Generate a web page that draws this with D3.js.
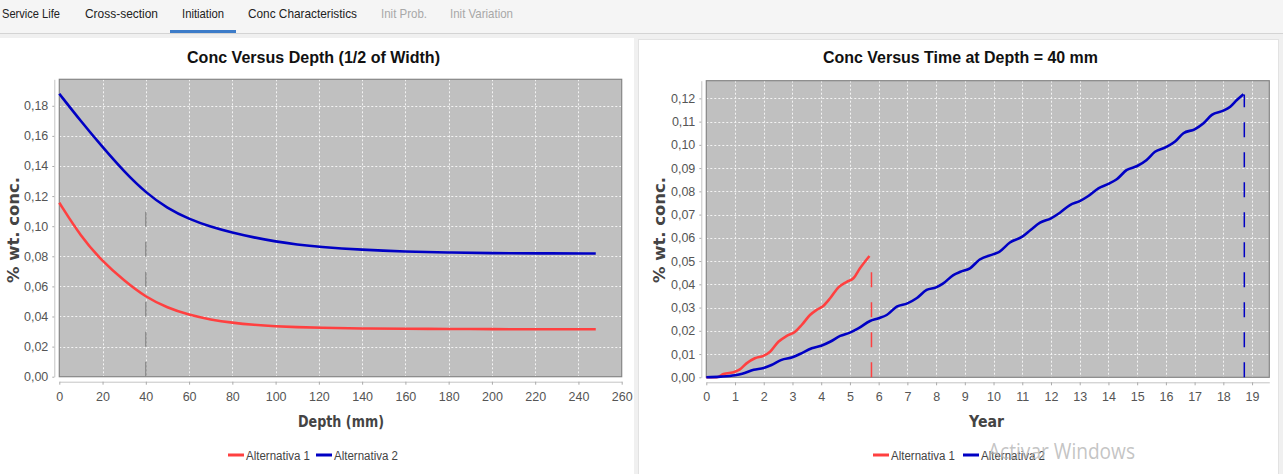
<!DOCTYPE html>
<html><head><meta charset="utf-8">
<script src="https://cdn.jsdelivr.net/npm/d3@7"></script>
<style>
body{margin:0;background:#fff;}
svg{display:block;font-family:"Liberation Sans",Arial,sans-serif;}
</style>
</head><body>
<svg id="c" width="1283" height="474"></svg>
<script>
// ---------- data ----------
const tabLabels = ["Service Life","Cross-section","Initiation","Conc Characteristics","Init Prob.","Init Variation"];
const seriesNames = ["Alternativa 1","Alternativa 2"];

// Conc versus depth
const depthMm   = [0,10,20,30,40,50,60,70,80,90,100,110,120,140,160,180,200,220,248];
const depthAlt1 = [0.1156,0.0930,0.0765,0.0638,0.0528,0.0458,0.0410,0.0379,0.0358,0.0344,0.0335,0.0329,0.0325,0.0320,0.0318,0.0317,0.0316,0.0315,0.0315];
const depthAlt2 = [0.188,0.1697,0.1525,0.1362,0.1222,0.1118,0.1047,0.0996,0.0957,0.0925,0.0898,0.0878,0.0863,0.0843,0.0831,0.0825,0.0821,0.0819,0.0819];
const depthMarker = {x: 40, top: 0.110};
const depthXTicks = [0,20,40,60,80,100,120,140,160,180,200,220,240,260];
const depthYTicks = [0,0.02,0.04,0.06,0.08,0.10,0.12,0.14,0.16,0.18];

// Conc versus time
const timeAlt1Year = [0,0.36,0.6,1.0,1.17,1.4,1.69,2.0,2.22,2.51,2.8,3.09,3.32,3.61,3.84,4.07,4.31,4.6,4.89,5.12,5.35,5.68];
const timeAlt1Conc = [0,0,0.0014,0.0024,0.0034,0.006,0.0082,0.0093,0.011,0.0153,0.0178,0.0196,0.0225,0.0268,0.029,0.0307,0.034,0.0387,0.0411,0.0426,0.0469,0.0522];
const timeAlt2Year = [0,0.5,1.0,1.25,1.65,2.0,2.27,2.62,3.0,3.26,3.67,4.0,4.31,4.66,5.0,5.29,5.7,6.0,6.28,6.63,7.0,7.32,7.67,8.0,8.25,8.6,8.85,9.18,9.52,10.0,10.2,10.57,11.0,11.3,11.62,12.0,12.31,12.66,13.0,13.3,13.65,14.0,14.29,14.64,15.0,15.33,15.62,16.0,16.32,16.61,17.0,17.31,17.6,18.0,18.24,18.47,18.7];
const timeAlt2Conc = [0,0.0003,0.0009,0.0015,0.0032,0.004,0.0053,0.0075,0.0086,0.010,0.0125,0.0136,0.0153,0.0178,0.0192,0.021,0.0242,0.0254,0.0268,0.0304,0.0318,0.034,0.0376,0.0387,0.0404,0.044,0.0454,0.0469,0.0507,0.053,0.054,0.058,0.0605,0.0635,0.0665,0.0684,0.0708,0.0741,0.0758,0.078,0.0813,0.0832,0.0852,0.0892,0.0909,0.0935,0.097,0.099,0.1014,0.105,0.1067,0.1093,0.1129,0.1147,0.1164,0.1193,0.1218];
const timeMarkers = [{x: 5.75, top: 0.0454, s: 0}, {x: 18.73, top: 0.1217, s: 1}];
const timeXTicks = d3.range(0, 20, 1);
const timeYTicks = [0,0.01,0.02,0.03,0.04,0.05,0.06,0.07,0.08,0.09,0.10,0.11,0.12];

// ---------- style ----------
const colors = ["#ff4040","#0000c4"];
const svg = d3.select("#c");
const loc = d3.formatLocale({decimal: ",", thousands: ".", grouping: [3], currency: ["", ""]});
const fmt2 = loc.format(".2f");

// page chrome
svg.append("rect").attr("x",0).attr("y",0).attr("width",1283).attr("height",474).attr("fill","#f0f0f0");
svg.append("rect").attr("x",0).attr("y",0).attr("width",1283).attr("height",33).attr("fill","#f5f5f5");
svg.append("line").attr("x1",0).attr("x2",1283).attr("y1",33.5).attr("y2",33.5).attr("stroke","#d4d4d4");
svg.append("rect").attr("x",0).attr("y",38).attr("width",634).attr("height",436).attr("fill","#fff");
svg.append("rect").attr("x",638.5).attr("y",39.5).attr("width",640).attr("height",440).attr("fill","#fff").attr("stroke","#e2e2e2");

const tabPos = [[2,58],[85,73],[182,42],[248,109],[381,46],[450,63]];
tabLabels.forEach((t,i)=>{
  svg.append("text").attr("x",tabPos[i][0]).attr("y",18).attr("font-size",13)
    .attr("textLength",tabPos[i][1]).attr("lengthAdjust","spacingAndGlyphs")
    .attr("fill", i>=4 ? "#a8a8a8" : "#222").text(t);
});
svg.append("rect").attr("x",170).attr("y",30).attr("width",66).attr("height",3).attr("fill","#3d7cc9");

function chart(o){
  const g = svg.append("g");
  const x = d3.scaleLinear().domain(o.xDomain).range([o.left,o.right]);
  const y = d3.scaleLinear().domain(o.yDomain).range([o.bottom,o.top]);
  g.append("rect").attr("x",o.left).attr("y",o.top).attr("width",o.right-o.left).attr("height",o.bottom-o.top).attr("fill","#c0c0c0");
  g.selectAll(".gx").data(o.xTicks.filter(d=>d>o.xDomain[0] && d<o.xDomain[1])).join("line")
    .attr("x1",d=>Math.round(x(d))+0.5).attr("x2",d=>Math.round(x(d))+0.5).attr("y1",o.top).attr("y2",o.bottom)
    .attr("stroke","#f4f4f4").attr("stroke-width",1).attr("stroke-dasharray","2,2");
  g.selectAll(".gy").data(o.yTicks.filter(d=>d>o.yDomain[0] && d<o.yDomain[1])).join("line")
    .attr("y1",d=>Math.round(y(d))+0.5).attr("y2",d=>Math.round(y(d))+0.5).attr("x1",o.left).attr("x2",o.right)
    .attr("stroke","#f4f4f4").attr("stroke-width",1).attr("stroke-dasharray","2,2");
  g.append("rect").attr("x",o.left).attr("y",o.top).attr("width",o.right-o.left).attr("height",o.bottom-o.top)
    .attr("fill","none").attr("stroke","#858585").attr("stroke-width",1.2);
  o.markers.forEach(m=>{
    g.append("line").attr("x1",x(m.x)).attr("x2",x(m.x)).attr("y1",y(0)).attr("y2",y(m.top))
      .attr("stroke",m.color).attr("stroke-width",1.5).attr("stroke-dasharray","15,15");
  });
  const line = d3.line().x(d=>x(d[0])).y(d=>y(d[1])).curve(o.curve);
  o.series.forEach((s,i)=>{
    g.append("path").datum(s).attr("d",line).attr("fill","none").attr("stroke",colors[i]).attr("stroke-width",2.6);
  });
  const ax = g.append("g").attr("transform",`translate(0,${o.bottom+5})`)
    .call(d3.axisBottom(x).tickValues(o.xTicks).tickSize(3).tickSizeOuter(0).tickPadding(7).tickFormat(d3.format("d")));
  const ay = g.append("g").attr("transform",`translate(${o.left-5},0)`)
    .call(d3.axisLeft(y).tickValues(o.yTicks).tickSize(2).tickSizeOuter(0).tickPadding(4).tickFormat(fmt2));
  [ax,ay].forEach(a=>{
    a.select(".domain").attr("stroke","#c4c4c4");
    a.selectAll(".tick line").attr("stroke","#aaaaaa");
    a.selectAll("text").attr("fill","#555").attr("font-size",12.5).attr("font-family","'Liberation Sans',Arial,sans-serif");
  });
  g.append("text").attr("x",o.titleX).attr("y",63).attr("text-anchor","middle").attr("font-size",16.5).attr("font-weight","bold")
    .attr("fill","#111").attr("textLength",o.titleW).attr("lengthAdjust","spacingAndGlyphs").text(o.title);
  g.append("text").attr("x",o.xTitleX).attr("y",427).attr("text-anchor","middle").attr("font-size",16).attr("font-weight","bold")
    .attr("font-family","'DejaVu Sans',sans-serif").attr("fill","#444").attr("textLength",o.xTitleW).attr("lengthAdjust","spacingAndGlyphs").text(o.xTitle);
  g.append("text").attr("transform",`translate(${o.yTitleX},230) rotate(-90)`).attr("text-anchor","middle").attr("font-size",15.5)
    .attr("font-weight","bold").attr("font-family","'DejaVu Sans',sans-serif").attr("fill","#444")
    .attr("textLength",106).attr("lengthAdjust","spacingAndGlyphs").text("% wt. conc.");
  o.legend.forEach((lx,i)=>{
    g.append("line").attr("x1",lx).attr("x2",lx+16).attr("y1",455).attr("y2",455).attr("stroke",colors[i]).attr("stroke-width",3);
    g.append("text").attr("x",lx+18).attr("y",459.5).attr("font-size",12.5).attr("fill","#444")
      .attr("textLength",64).attr("lengthAdjust","spacingAndGlyphs").text(seriesNames[i]);
  });
}

chart({
  left:59.3, right:621.7, top:79.3, bottom:376.7,
  xDomain:[0,260], yDomain:[0,0.1976], xTicks:depthXTicks, yTicks:depthYTicks,
  series:[depthMm.map((d,i)=>[d,depthAlt1[i]]), depthMm.map((d,i)=>[d,depthAlt2[i]])],
  markers:[{x:depthMarker.x, top:depthMarker.top, color:"#8a8a8a"}],
  curve:d3.curveBasis,
  title:"Conc Versus Depth (1/2 of Width)", titleX:313.5, titleW:253,
  xTitle:"Depth (mm)", xTitleX:341, xTitleW:86, yTitleX:19,
  legend:[228,316]
});
chart({
  left:706.3, right:1269.3, top:80.7, bottom:377.3,
  xDomain:[0,19.6], yDomain:[0,0.1276], xTicks:timeXTicks, yTicks:timeYTicks,
  series:[timeAlt1Year.map((d,i)=>[d,timeAlt1Conc[i]]), timeAlt2Year.map((d,i)=>[d,timeAlt2Conc[i]])],
  markers:timeMarkers.map(m=>({x:m.x, top:m.top, color:colors[m.s]})),
  curve:d3.curveMonotoneX,
  title:"Conc Versus Time at Depth = 40 mm", titleX:960.5, titleW:275,
  xTitle:"Year", xTitleX:986.5, xTitleW:35, yTitleX:665,
  legend:[873,963]
});
// OS watermark seen in the screenshot
svg.append("text").attr("x",988).attr("y",459).attr("font-size",22).attr("fill","#b5b5b5").attr("fill-opacity",0.8)
  .attr("font-family","'Open Sans',sans-serif").attr("textLength",147).attr("lengthAdjust","spacingAndGlyphs").text("Activar Windows");
</script>
</body></html>
